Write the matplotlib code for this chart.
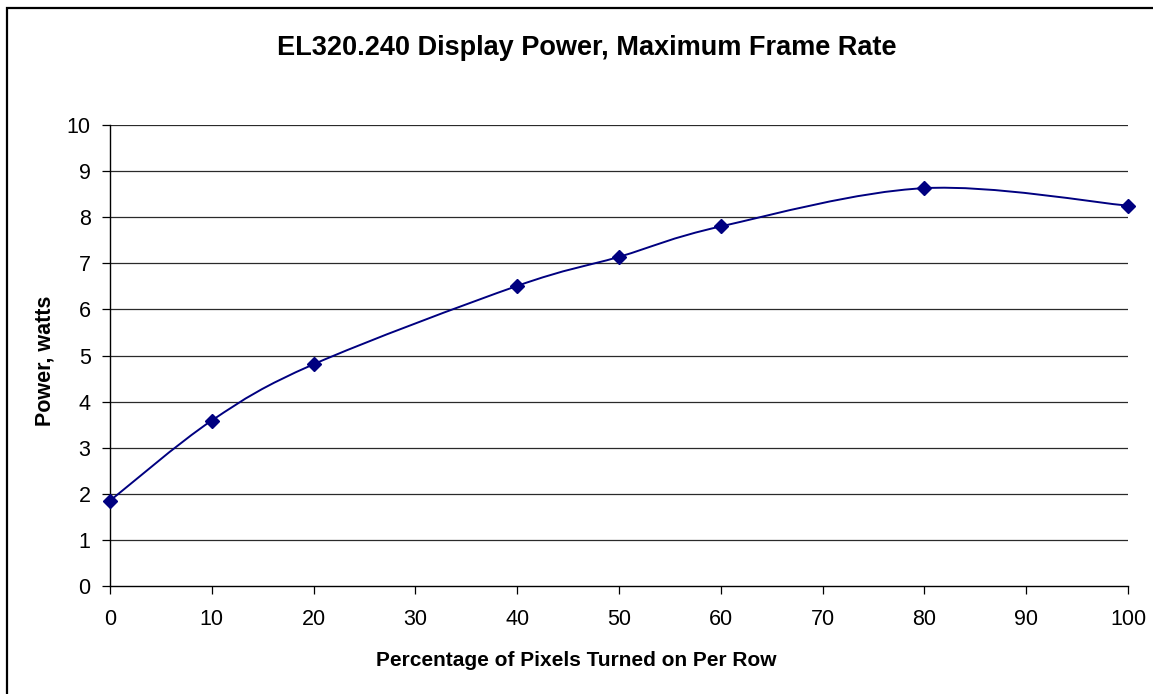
import matplotlib
matplotlib.use("Agg")
import matplotlib.pyplot as plt
from matplotlib.path import Path
from matplotlib.patches import PathPatch, Rectangle
import numpy as np

plt.rcParams['font.family'] = ['Liberation Sans', 'DejaVu Sans']

# data
pct_on = [0, 10, 20, 40, 50, 60, 80, 100]
power_w = [1.85, 3.59, 4.81, 6.51, 7.14, 7.80, 8.63, 8.25]
xticks = list(range(0, 101, 10))
yticks = list(range(0, 11))

W, H, DPI = 1153, 694, 100
fig = plt.figure(figsize=(W / DPI, H / DPI), dpi=DPI)
fig.patch.set_facecolor('white')

# outer chart border (right/bottom edges fall outside the image)
fig.patches.append(Rectangle((7 / W, -20 / H), 1170 / W, (H - 8 + 20) / H,
                             transform=fig.transFigure, fill=False,
                             edgecolor='black', linewidth=1.6))

ax = fig.add_axes([110 / W, (H - 586) / H, (1128 - 110) / W, (586 - 125) / H])
ax.set_xlim(0, 100)
ax.set_ylim(0, 10)

for v in yticks[1:]:
    ax.axhline(v, color='#2a2a2a', linewidth=0.9, zorder=1)

# excel-style smoothed line: cubic bezier through the points
x = np.array(pct_on, dtype=float)
y = np.array(power_w, dtype=float)
verts = [(x[0], y[0])]
codes = [Path.MOVETO]
n = len(x)
for i in range(n - 1):
    xp, yp = (x[i - 1], y[i - 1]) if i > 0 else (x[i], y[i])
    xn2, yn2 = (x[i + 2], y[i + 2]) if i + 2 < n else (x[i + 1], y[i + 1])
    c1 = (x[i] + (x[i + 1] - xp) / 6, y[i] + (y[i + 1] - yp) / 6)
    c2 = (x[i + 1] - (xn2 - x[i]) / 6, y[i + 1] - (yn2 - y[i]) / 6)
    verts += [c1, c2, (x[i + 1], y[i + 1])]
    codes += [Path.CURVE4] * 3
ax.add_patch(PathPatch(Path(verts, codes), fill=False, edgecolor='#000080',
                       linewidth=1.4, zorder=3))
ax.plot(pct_on, power_w, linestyle='none', marker='D', markersize=7,
        color='#000080', zorder=4, clip_on=False)

ax.set_xticks(xticks)
ax.set_yticks(yticks)
ax.tick_params(direction='out', length=6, width=0.9, color='black', labelsize=15.5)
ax.tick_params(axis='x', pad=10.5)
ax.tick_params(axis='y', pad=8)
for s in ['top', 'right']:
    ax.spines[s].set_visible(False)
for s in ['left', 'bottom']:
    ax.spines[s].set_color('black')
    ax.spines[s].set_linewidth(1.0)

fig.text(587 / W, 1 - 48 / H, 'EL320.240 Display Power, Maximum Frame Rate',
         ha='center', va='center', fontsize=19.5, fontweight='bold')
fig.text(576 / W, 1 - 660 / H, 'Percentage of Pixels Turned on Per Row',
         ha='center', va='center', fontsize=15, fontweight='bold')
fig.text(45 / W, 1 - 361 / H, 'Power, watts', ha='center', va='center',
         rotation=90, fontsize=15.5, fontweight='bold')

fig.savefig('out.png', dpi=DPI, facecolor='white')
